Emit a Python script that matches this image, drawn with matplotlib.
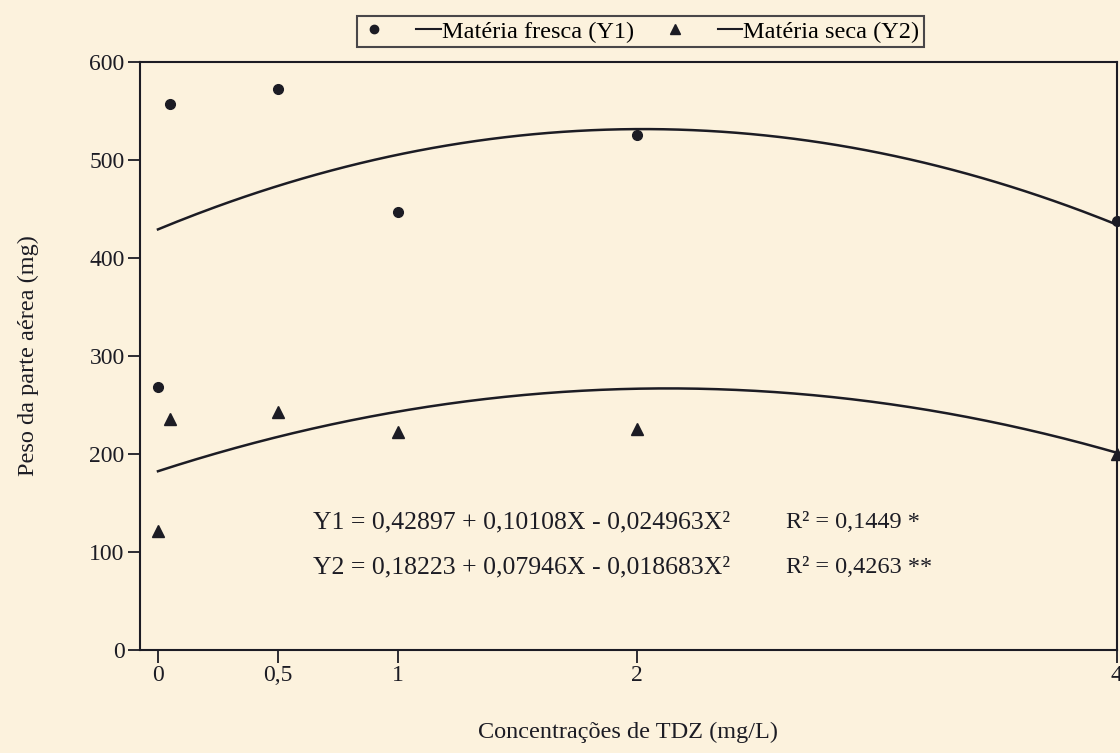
import matplotlib
matplotlib.use("Agg")
import matplotlib.pyplot as plt
from matplotlib.lines import Line2D
import numpy as np

# -- Data --
conc = [0, 0.05, 0.5, 1, 2, 4]                 # TDZ (mg/L)
fresh = [268, 557, 572, 447, 525, 438]        # Matéria fresca (mg)
dry = [121, 236, 243, 222, 225, 200]          # Matéria seca (mg)
coef_y1 = [0.42897, 0.10108, -0.024963]       # fitted quadratic (g)
coef_y2 = [0.18223, 0.07946, -0.018683]
xticks = [0, 0.5, 1, 2, 4]
xtick_labels = ["0", "0,5", "1", "2", "4"]
yticks = [0, 100, 200, 300, 400, 500, 600]

bg = "#fcf2dd"
ink = "#1c1c24"
plt.rcParams["font.family"] = ["Liberation Serif", "DejaVu Serif"]

fig = plt.figure(figsize=(11.2, 7.53), dpi=100, facecolor=bg)
ax = fig.add_axes([0.125, 0.137, 0.872, 0.781], facecolor=bg)

# fitted curves (g -> mg)
xs = np.linspace(0, 4, 200)
for c in (coef_y1, coef_y2):
    ax.plot(xs, 1000 * (c[0] + c[1] * xs + c[2] * xs ** 2), color=ink, lw=1.8)

ax.plot(conc, fresh, "o", color=ink, ms=7, clip_on=False, zorder=3)
ax.plot(conc, dry, "^", color=ink, ms=8, clip_on=False, zorder=3)

ax.set_xlim(-0.075, 4.0)
ax.set_ylim(0, 600)
ax.set_xticks(xticks)
ax.set_xticklabels(xtick_labels)
ax.set_yticks(yticks)
ax.tick_params(axis="both", direction="out", length=9, width=1.3, colors=ink,
               labelsize=17)
ax.tick_params(axis="y", pad=2)
ax.tick_params(axis="x", pad=2)
for s in ax.spines.values():
    s.set_linewidth(1.5)
    s.set_color(ink)

ax.set_xlabel("Concentrações de TDZ (mg/L)", fontsize=17.5, labelpad=26, color=ink)
ax.set_ylabel("Peso da parte aérea (mg)", fontsize=17.5, labelpad=36, color=ink)

# -- Equations --
ax.text(0.646, 130, "Y1 = 0,42897 + 0,10108X - 0,024963X²", fontsize=18.5,
        va="center", color=ink)
ax.text(2.62, 130, "R² = 0,1449 *", fontsize=17.5, va="center", color=ink)
ax.text(0.646, 84, "Y2 = 0,18223 + 0,07946X - 0,018683X²", fontsize=18.5,
        va="center", color=ink)
ax.text(2.62, 84, "R² = 0,4263 **", fontsize=17.5, va="center", color=ink)

# -- Legend --
handles = [Line2D([], [], ls="", marker="o", color=ink, ms=6),
           Line2D([], [], color=ink, lw=1.5),
           Line2D([], [], ls="", marker="^", color=ink, ms=7),
           Line2D([], [], color=ink, lw=1.5)]
labels = ["", "Matéria fresca (Y1)", "", "Matéria seca (Y2)"]
leg = fig.legend(handles, labels, ncol=4, loc="center", bbox_to_anchor=(0.572, 0.958),
                 fontsize=17.5, frameon=True, fancybox=False, edgecolor=ink,
                 handlelength=1.0, handletextpad=0.05, columnspacing=1.2,
                 borderpad=0.2, facecolor=bg)
leg.get_frame().set_linewidth(1.5)

fig.savefig("out.png", dpi=100, facecolor=bg)
